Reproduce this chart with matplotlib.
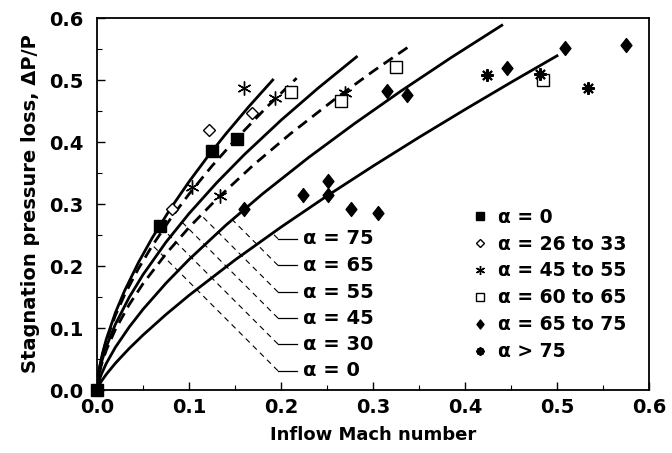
import numpy as np
import matplotlib
matplotlib.use("Agg")
import matplotlib.pyplot as plt
from matplotlib.path import Path

plt.rcParams['font.family'] = ['DejaVu Sans']
plt.rcParams['font.weight'] = 'bold'

# ---------------- data: correlation curves ----------------
curve_styles = ["solid", "dashed", "solid", "dashed", "solid", "solid"]
m_a0 = [0, 0.002, 0.005, 0.01, 0.02, 0.03, 0.045, 0.06, 0.08, 0.10, 0.12, 0.14, 0.165, 0.191]
p_a0 = [0, 0.0303, 0.0532, 0.0815, 0.1248, 0.1601, 0.2055, 0.2453, 0.2929, 0.3359, 0.3758, 0.4130, 0.4570, 0.5000]
m_a30 = [0, 0.002, 0.005, 0.01, 0.02, 0.03, 0.045, 0.06, 0.08, 0.10, 0.125, 0.15, 0.185, 0.217]
p_a30 = [0, 0.0302, 0.0524, 0.0794, 0.1203, 0.1535, 0.1957, 0.2326, 0.2764, 0.3160, 0.3613, 0.4031, 0.4570, 0.5030]
m_a45 = [0, 0.002, 0.005, 0.01, 0.02, 0.035, 0.05, 0.075, 0.1, 0.13, 0.16, 0.2, 0.24, 0.282]
p_a45 = [0, 0.0259, 0.0453, 0.0694, 0.1061, 0.1495, 0.1860, 0.2385, 0.2845, 0.3341, 0.3795, 0.4351, 0.4865, 0.5372]
m_a55 = [0, 0.002, 0.005, 0.01, 0.02, 0.035, 0.05, 0.075, 0.1, 0.13, 0.17, 0.21, 0.26, 0.30, 0.338]
p_a55 = [0, 0.0238, 0.0418, 0.0639, 0.0977, 0.1377, 0.1714, 0.2197, 0.2621, 0.3078, 0.3628, 0.4130, 0.4708, 0.5140, 0.5529]
m_a65 = [0, 0.002, 0.005, 0.01, 0.02, 0.035, 0.05, 0.075, 0.1, 0.14, 0.18, 0.23, 0.28, 0.33, 0.385, 0.44]
p_a65 = [0, 0.0139, 0.0263, 0.0426, 0.0689, 0.1015, 0.1301, 0.1723, 0.2104, 0.2657, 0.3164, 0.3750, 0.4298, 0.4818, 0.5362, 0.5882]
m_a75 = [0, 0.002, 0.005, 0.01, 0.02, 0.035, 0.05, 0.075, 0.1, 0.15, 0.2, 0.25, 0.3, 0.35, 0.4, 0.45, 0.5]
p_a75 = [0, 0.0071, 0.0146, 0.0251, 0.0432, 0.0670, 0.0886, 0.1218, 0.1526, 0.2097, 0.2627, 0.3130, 0.3611, 0.4075, 0.4524, 0.4962, 0.5390]
curves_m = [m_a0, m_a30, m_a45, m_a55, m_a65, m_a75]
curves_p = [p_a0, p_a30, p_a45, p_a55, p_a65, p_a75]
curve_labels = ["α = 0", "α = 30", "α = 45", "α = 55", "α = 65", "α = 75"]
label_y = [0.031, 0.074, 0.116, 0.158, 0.201, 0.244]

# ---------------- data: measurements ----------------
sq_m = [0.0, 0.068, 0.125, 0.152]
sq_p = [0.0, 0.265, 0.385, 0.405]
od_m = [0.081, 0.122, 0.168]
od_p = [0.292, 0.419, 0.447]
st_m = [0.103, 0.134, 0.160, 0.193, 0.270]
st_p = [0.327, 0.313, 0.487, 0.471, 0.479]
os_m = [0.211, 0.265, 0.325, 0.485]
os_p = [0.481, 0.466, 0.521, 0.500]
fd_m = [0.160, 0.224, 0.251, 0.251, 0.276, 0.305, 0.315, 0.337, 0.446, 0.509, 0.575]
fd_p = [0.292, 0.314, 0.337, 0.314, 0.292, 0.285, 0.482, 0.476, 0.519, 0.551, 0.557]
bs_m = [0.424, 0.482, 0.534]
bs_p = [0.508, 0.510, 0.487]
legend_labels = ["α = 0", "α = 26 to 33", "α = 45 to 55", "α = 60 to 65", "α = 65 to 75", "α > 75"]

xticks = [0.0, 0.1, 0.2, 0.3, 0.4, 0.5, 0.6]
yticks = [0.0, 0.1, 0.2, 0.3, 0.4, 0.5, 0.6]

# ---------------- figure ----------------
fig = plt.figure(figsize=(6.72, 4.53), dpi=100)
ax = fig.add_axes([97/672, 63/453, 552/672, 372/453])
ax.set_xlim(0, 0.6)
ax.set_ylim(0, 0.6)

for m, p, ls in zip(curves_m, curves_p, curve_styles):
    if ls == "dashed":
        ax.plot(m, p, color='black', lw=2.0, dashes=(4, 2.4), solid_capstyle='butt')
    else:
        ax.plot(m, p, color='black', lw=2.0)

diamond = Path([(0, 1), (0.78, 0), (0, -1), (-0.78, 0), (0, 1)],
               [Path.MOVETO, Path.LINETO, Path.LINETO, Path.LINETO, Path.CLOSEPOLY])

h1, = ax.plot(sq_m, sq_p, ls='none', marker='s', ms=8, color='black', clip_on=False, zorder=5)
h2, = ax.plot(od_m, od_p, ls='none', marker='D', ms=6, mfc='white', mec='black', mew=1.0, zorder=5)
h3, = ax.plot(st_m, st_p, ls='none', marker=(6, 2, 0), ms=10, color='black', mew=1.0, zorder=5)
h4, = ax.plot(os_m, os_p, ls='none', marker='s', ms=9, mfc='white', mec='black', mew=1.0, zorder=5)
h5, = ax.plot(fd_m, fd_p, ls='none', marker=diamond, ms=10, color='black', zorder=5)
h6, = ax.plot(bs_m, bs_p, ls='none', marker=(8, 2, 0), ms=9, color='black', mew=1.5, zorder=5)

leg = ax.legend([h1, h2, h3, h4, h5, h6], legend_labels, loc='upper left',
                bbox_to_anchor=(0.68, 0.49), frameon=False, markerscale=0.65,
                handlelength=0.8, handletextpad=0.55, labelspacing=0.42,
                borderpad=0, borderaxespad=0,
                prop={'family': 'DejaVu Sans', 'weight': 'bold', 'size': 13.5})

# ---------------- curve labels with leader lines ----------------
fig.canvas.draw()
x_corner, x_hend, x_text = 0.1967, 0.2174, 0.224
trans = ax.transData
inv = trans.inverted()
for ci, ly in enumerate(label_y):
    m = np.asarray(curves_m[ci]); p = np.asarray(curves_p[ci])
    disp = trans.transform(np.column_stack([m, p]))
    s = disp[:, 0] + disp[:, 1]
    X0, Y0 = trans.transform((x_corner, ly))
    s0 = X0 + Y0
    Xi = np.interp(s0, s, disp[:, 0])
    Yi = np.interp(s0, s, disp[:, 1])
    xe, ye = inv.transform((Xi, Yi))
    ax.plot([x_corner, xe], [ly, ye], color='black', lw=0.8, dashes=(5, 4))
    ax.plot([x_corner, x_hend], [ly, ly], color='black', lw=0.9)

for txt, ly in zip(curve_labels, label_y):
    ax.text(x_text, ly, txt, ha='left', va='center', fontsize=14,
            fontweight='bold', family='DejaVu Sans')

# ---------------- axes styling ----------------
ax.set_xticks(xticks)
ax.set_yticks(yticks)
ax.set_xticklabels([f"{v:.1f}" for v in xticks])
ax.set_yticklabels([f"{v:.1f}" for v in yticks])
ax.set_xticks(np.arange(0.05, 0.6, 0.1), minor=True)
ax.set_yticks(np.arange(0.05, 0.6, 0.1), minor=True)
ax.tick_params(which='major', direction='in', length=6, width=1.0, labelsize=14, pad=6)
ax.tick_params(which='minor', direction='in', length=3.5, width=0.8)
ax.tick_params(axis='y', which='major', pad=10)
for t in ax.get_xticklabels() + ax.get_yticklabels():
    t.set_fontweight('bold')
for sp in ax.spines.values():
    sp.set_linewidth(1.3)

ax.set_xlabel("Inflow Mach number", fontsize=13, fontweight='bold', labelpad=6)
ax.set_ylabel("Stagnation pressure loss, ΔP/P", fontsize=14, fontweight='bold', labelpad=6)

fig.savefig("out.png", dpi=100)
